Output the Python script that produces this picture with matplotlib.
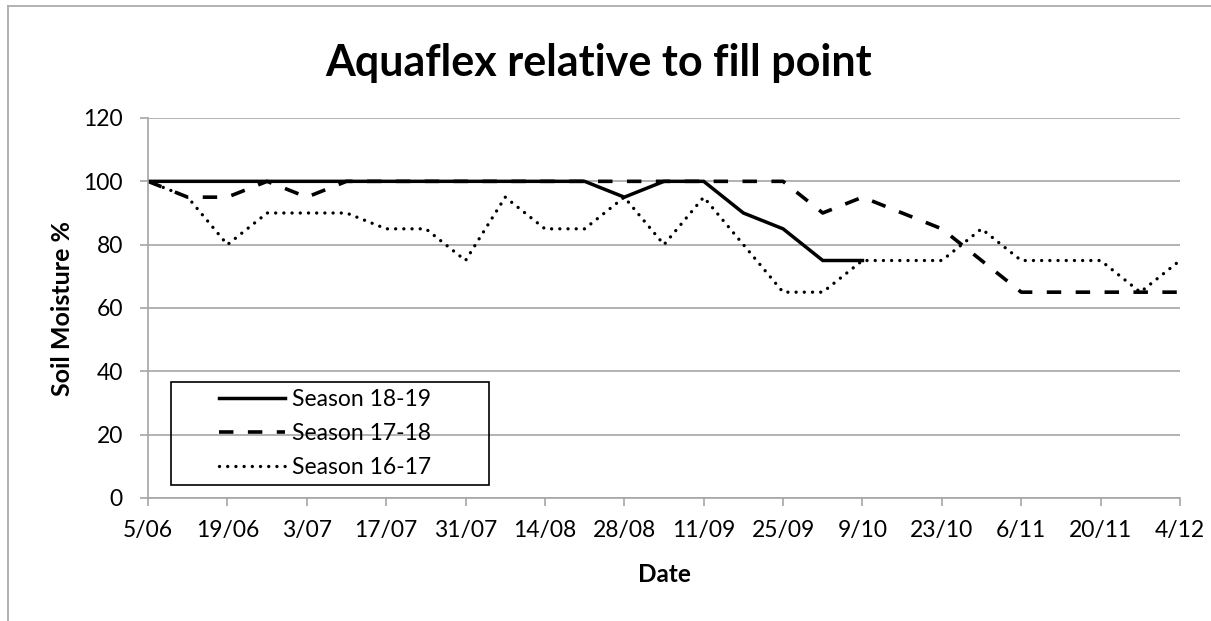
import matplotlib.pyplot as plt
import pandas as pd
from matplotlib.lines import Line2D
from matplotlib.patches import Rectangle

# Valeurs (un point par semaine)
dates = pd.date_range("2018-06-05", periods=27, freq="7D")

season_18_19 = [100, 100, 100, 100, 100, 100, 100, 100, 100, 100, 100, 100,
                95, 100, 100, 90, 85, 75, 75]
season_17_18 = [100, 95, 95, 100, 95, 100, 100, 100, 100, 100, 100, 100,
                100, 100, 100, 100, 100, 90, 95, 90, 85, 75, 65, 65, 65, 65, 65]
season_16_17 = [100, 95, 80, 90, 90, 90, 85, 85, 75, 95, 85, 85,
                95, 80, 95, 80, 65, 65, 75, 75, 75, 85, 75, 75, 75, 65, 75]

tick_labels = ["5/06", "19/06", "3/07", "17/07", "31/07", "14/08", "28/08",
               "11/09", "25/09", "9/10", "23/10", "6/11", "20/11", "4/12"]

plt.rcParams['font.family'] = ['Lato', 'DejaVu Sans']

W, H = 1211, 621
fig = plt.figure(figsize=(W / 100, H / 100), dpi=100)
ax = fig.add_axes([148 / W, 1 - 498 / H, 1032 / W, 380 / H])

ax.plot(dates[:len(season_18_19)], season_18_19, color='black', lw=2.5,
        solid_joinstyle='miter', label="Season 18-19")
ax.plot(dates, season_17_18, color='black', lw=2.6, linestyle=(0, (4, 4)),
        label="Season 17-18")
ax.plot(dates, season_16_17, color='black', lw=2.4, linestyle=(0, (0.01, 2.45)),
        dash_capstyle='round', label="Season 16-17")

ax.set_xlim(dates[0], dates[-1])
ax.set_ylim(0, 120)
ax.set_yticks(range(0, 121, 20))
ax.set_xticks(dates[::2])
ax.set_xticklabels(tick_labels)

ax.grid(axis='y', color='#a6a6a6', lw=1.2)
ax.set_axisbelow(True)
for s in ['top', 'right']:
    ax.spines[s].set_visible(False)
for s in ['left', 'bottom']:
    ax.spines[s].set_color('#a6a6a6')
    ax.spines[s].set_linewidth(1.2)
ax.tick_params(axis='both', colors='#a6a6a6', labelcolor='black', labelsize=16.5,
               length=6, width=1.2)
ax.tick_params(axis='y', pad=12)
ax.tick_params(axis='x', pad=10)

ax.set_ylabel("Soil Moisture %", fontsize=18, fontweight='bold', labelpad=7)
ax.set_xlabel("Date", fontsize=17.5, fontweight='bold', labelpad=16)

fig.text(0.494, 1 - 76 / H, "Aquaflex relative to fill point", ha='center',
         va='baseline', fontsize=31, fontweight='bold')

# legende : cadre dessine a part, contenu centre dedans
fig.add_artist(Rectangle((171 / W, 1 - 485 / H), 318 / W, 103 / H,
                         transform=fig.transFigure, fill=False,
                         edgecolor='black', lw=1.2, zorder=5))
leg = ax.legend(loc='upper left', bbox_to_anchor=(214 / W, 1 - 384 / H),
                bbox_transform=fig.transFigure, fontsize=16.5, frameon=False,
                handlelength=2.9, borderpad=0.2, labelspacing=0.58,
                handletextpad=0.3, borderaxespad=0)

# cadre du graphique
fig.add_artist(Line2D([8 / W, 1], [1 - 6 / H, 1 - 6 / H],
                      color='#a6a6a6', lw=1.2, transform=fig.transFigure))
fig.add_artist(Line2D([8 / W, 8 / W], [0, 1 - 6 / H],
                      color='#a6a6a6', lw=1.2, transform=fig.transFigure))

fig.savefig("out.png", dpi=100)
